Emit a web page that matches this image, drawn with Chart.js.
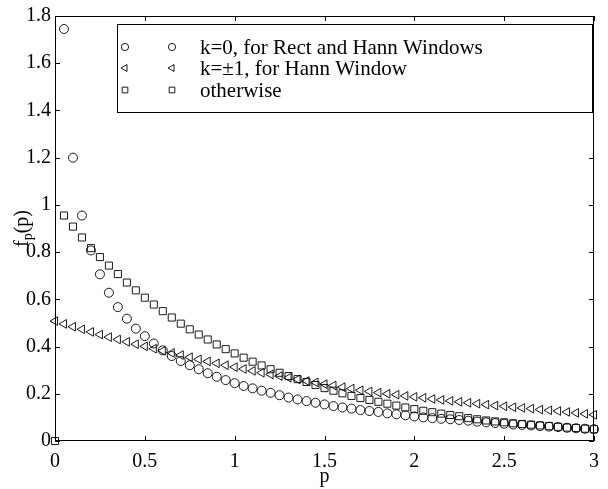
<!DOCTYPE html>
<html>
<head>
<meta charset="utf-8">
<script src="https://cdn.jsdelivr.net/npm/chart.js@4.4.0/dist/chart.umd.min.js"></script>
<style>
  html, body { margin: 0; padding: 0; background: #fff; }
  #wrap { width: 608px; height: 489px; }
</style>
</head>
<body>
<div id="wrap"><canvas id="fpChart" width="608" height="489"></canvas></div>
<script>
// p values (step 0.05)
const P_VALUES = [
  0, 0.05, 0.1, 0.15, 0.2, 0.25, 0.3, 0.35, 0.4, 0.45,
  0.5, 0.55, 0.6, 0.65, 0.7, 0.75, 0.8, 0.85, 0.9, 0.95,
  1, 1.05, 1.1, 1.15, 1.2, 1.25, 1.3, 1.35, 1.4, 1.45,
  1.5, 1.55, 1.6, 1.65, 1.7, 1.75, 1.8, 1.85, 1.9, 1.95,
  2, 2.05, 2.1, 2.15, 2.2, 2.25, 2.3, 2.35, 2.4, 2.45,
  2.5, 2.55, 2.6, 2.65, 2.7, 2.75, 2.8, 2.85, 2.9, 2.95, 3
];

// k=0, for Rect and Hann Windows
const K0_VALUES = [
  null, 1.745, 1.20, 0.955, 0.807, 0.706, 0.628, 0.567, 0.518, 0.476,
  0.444, 0.413, 0.384, 0.360, 0.339, 0.321, 0.304, 0.287, 0.272, 0.258,
  0.245, 0.233, 0.223, 0.213, 0.204, 0.194, 0.184, 0.176, 0.169, 0.162,
  0.155, 0.148, 0.142, 0.137, 0.131, 0.127, 0.123, 0.117, 0.113, 0.109,
  0.104, 0.100, 0.097, 0.094, 0.092, 0.089, 0.086, 0.082, 0.079, 0.076,
  0.073, 0.070, 0.068, 0.066, 0.063, 0.061, 0.059, 0.056, 0.054, 0.052, 0.050
];

// k=±1, for Hann Window
const K1_VALUES = [
  0.508, 0.496, 0.484, 0.473, 0.462, 0.451, 0.440, 0.430, 0.420, 0.410,
  0.401, 0.391, 0.382, 0.373, 0.364, 0.355, 0.346, 0.337, 0.329, 0.321,
  0.313, 0.305, 0.297, 0.289, 0.282, 0.275, 0.268, 0.261, 0.254, 0.248,
  0.241, 0.235, 0.228, 0.222, 0.215, 0.210, 0.205, 0.200, 0.196, 0.191,
  0.187, 0.183, 0.178, 0.174, 0.170, 0.166, 0.162, 0.158, 0.154, 0.150,
  0.147, 0.143, 0.140, 0.137, 0.133, 0.130, 0.127, 0.123, 0.119, 0.115, 0.111
];

// otherwise
const OTHER_VALUES = [
  0, 0.955, 0.908, 0.862, 0.817, 0.779, 0.743, 0.707, 0.671, 0.638,
  0.607, 0.578, 0.550, 0.523, 0.497, 0.473, 0.451, 0.430, 0.409, 0.389,
  0.371, 0.353, 0.336, 0.320, 0.304, 0.289, 0.275, 0.262, 0.250, 0.237,
  0.224, 0.213, 0.202, 0.191, 0.182, 0.174, 0.166, 0.158, 0.150, 0.142,
  0.135, 0.128, 0.122, 0.116, 0.110, 0.105, 0.097, 0.092, 0.087, 0.083,
  0.079, 0.075, 0.072, 0.069, 0.066, 0.063, 0.060, 0.057, 0.055, 0.052, 0.050
];

const SERIES_LABELS = ["k=0, for Rect and Hann Windows", "k=\u00b11, for Hann Window", "otherwise"];

const FONT = "'Liberation Serif', 'Times New Roman', serif";

function toPoints(values) {
  return P_VALUES.map((p, i) => ({ x: p, y: values[i] }));
}

function dataset(label, values, style, radius, rotation) {
  return {
    label,
    data: toPoints(values),
    pointStyle: style,
    pointRadius: radius,
    pointHoverRadius: radius,
    rotation: rotation || 0,
    borderColor: "#000",
    backgroundColor: "rgba(0,0,0,0)",
    borderWidth: 0.9,
    showLine: false,
    clip: false
  };
}

// frame with inward ticks on all four sides + y title with subscript
const framePlugin = {
  id: "frame",
  afterDraw(chart) {
    const { ctx, chartArea: a, scales } = chart;
    ctx.save();
    ctx.strokeStyle = "#000";
    ctx.lineWidth = 1;
    ctx.strokeRect(a.left + 0.5, a.top + 0.5, a.right - a.left - 1, a.bottom - a.top - 1);
    const len = 5;
    ctx.beginPath();
    scales.x.ticks.forEach(t => {
      const x = Math.round(scales.x.getPixelForValue(t.value)) + 0.5;
      ctx.moveTo(x, a.bottom); ctx.lineTo(x, a.bottom - len);
      ctx.moveTo(x, a.top); ctx.lineTo(x, a.top + len);
    });
    scales.y.ticks.forEach(t => {
      const y = Math.round(scales.y.getPixelForValue(t.value)) + 0.5;
      ctx.moveTo(a.left, y); ctx.lineTo(a.left + len, y);
      ctx.moveTo(a.right, y); ctx.lineTo(a.right - len, y);
    });
    ctx.stroke();

    // y title: f_p(p)
    ctx.translate(28, (a.top + a.bottom) / 2);
    ctx.rotate(-Math.PI / 2);
    ctx.fillStyle = "#000";
    ctx.textBaseline = "alphabetic";
    ctx.font = "20px " + FONT;
    const wF = ctx.measureText("f").width;
    ctx.font = "14px " + FONT;
    const wP = ctx.measureText("p").width;
    ctx.font = "20px " + FONT;
    const wR = ctx.measureText("(p)").width;
    let x0 = -(wF + wP + wR) / 2;
    ctx.fillText("f", x0, 0);
    ctx.font = "14px " + FONT;
    ctx.fillText("p", x0 + wF, 4);
    ctx.font = "20px " + FONT;
    ctx.fillText("(p)", x0 + wF + wP, 0);
    ctx.restore();
  }
};

// MATLAB style legend box, two marker samples per row
const legendPlugin = {
  id: "boxLegend",
  afterDraw(chart) {
    const { ctx } = chart;
    const box = { left: 117, top: 24, right: 592, bottom: 112 };
    const rows = [47, 68, 90];
    ctx.save();
    ctx.fillStyle = "#fff";
    ctx.fillRect(box.left, box.top, box.right - box.left, box.bottom - box.top);
    ctx.strokeStyle = "#000";
    ctx.lineWidth = 1;
    ctx.strokeRect(box.left + 0.5, box.top + 0.5, box.right - box.left, box.bottom - box.top);
    chart.data.datasets.forEach((ds, i) => {
      const y = rows[i];
      const opts = {
        pointStyle: ds.pointStyle,
        rotation: ds.rotation,
        radius: ds.pointRadius * 0.8,
        borderWidth: 0.9
      };
      ctx.strokeStyle = "#000";
      ctx.fillStyle = "rgba(0,0,0,0)";
      ctx.lineWidth = 0.9;
      Chart.helpers.drawPoint(ctx, opts, 125, y);
      Chart.helpers.drawPoint(ctx, opts, 172, y);
      ctx.fillStyle = "#000";
      ctx.font = "21px " + FONT;
      ctx.textBaseline = "middle";
      ctx.fillText(ds.label, 200, y + 1);
    });
    ctx.restore();
  }
};

function createChart() {
  const ctx = document.getElementById("fpChart").getContext("2d");
  return new Chart(ctx, {
    type: "scatter",
    data: {
      datasets: [
        dataset(SERIES_LABELS[0], K0_VALUES, "circle", 4.5, 0),
        dataset(SERIES_LABELS[1], K1_VALUES, "triangle", 5, -90),
        dataset(SERIES_LABELS[2], OTHER_VALUES, "rect", 5, 0)
      ]
    },
    options: {
      responsive: false,
      animation: false,
      devicePixelRatio: 1,
      layout: { padding: { top: 15, right: 4, left: 0, bottom: 0 } },
      plugins: { legend: { display: false }, tooltip: { enabled: false } },
      scales: {
        x: {
          type: "linear",
          min: 0, max: 3,
          grid: { display: false, drawTicks: false },
          border: { display: false },
          ticks: {
            stepSize: 0.5,
            color: "#000",
            padding: 9,
            maxRotation: 0,
            font: { family: FONT, size: 20 },
            callback: v => String(+v.toFixed(1))
          },
          title: {
            display: true,
            text: "p",
            color: "#000",
            font: { family: FONT, size: 20 },
            padding: { top: 0, bottom: 0 }
          },
          afterFit: s => { s.height = 48; }
        },
        y: {
          type: "linear",
          min: 0, max: 1.8,
          grid: { display: false, drawTicks: false },
          border: { display: false },
          ticks: {
            stepSize: 0.2,
            color: "#000",
            padding: 4,
            font: { family: FONT, size: 20 },
            callback: v => String(+v.toFixed(1))
          },
          afterFit: s => { s.width = 55; }
        }
      }
    },
    plugins: [framePlugin, legendPlugin]
  });
}

createChart();
</script>
</body>
</html>
